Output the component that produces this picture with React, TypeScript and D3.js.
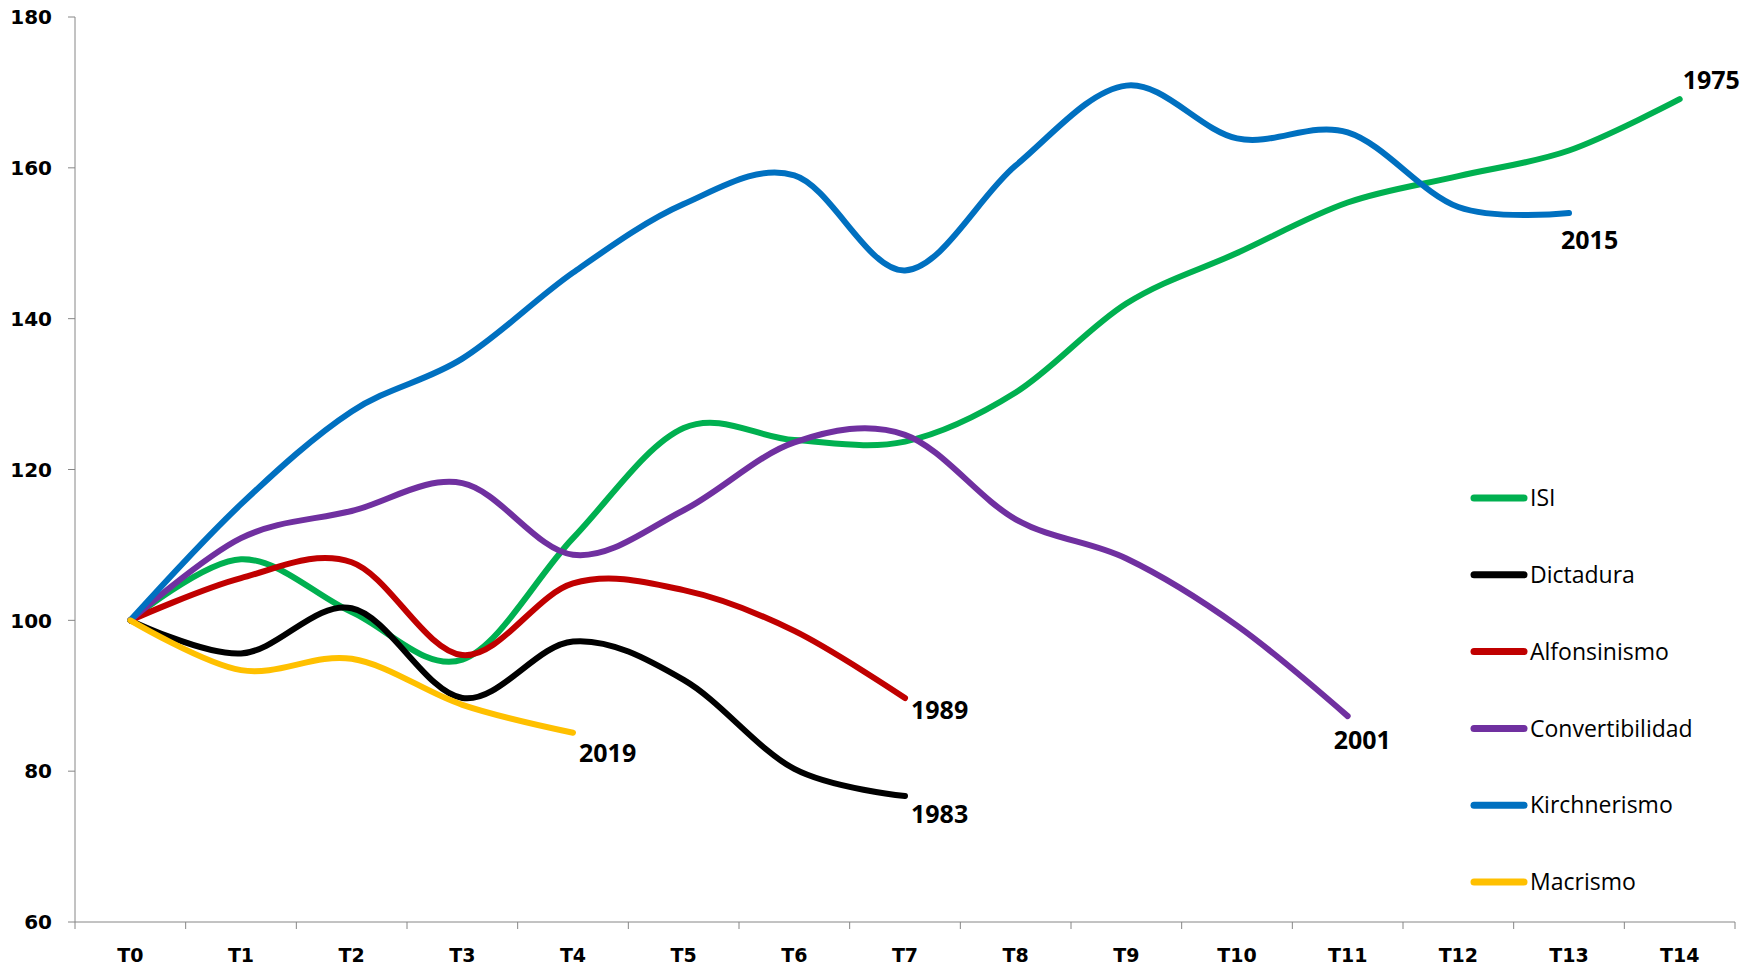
import React, { useEffect, useRef } from 'react';
import * as d3 from 'd3';

// periods T0..T14
const periods = ['T0', 'T1', 'T2', 'T3', 'T4', 'T5', 'T6', 'T7', 'T8', 'T9', 'T10', 'T11', 'T12', 'T13', 'T14'];
const yTicks = [60, 80, 100, 120, 140, 160, 180];

const seriesNames = ['ISI', 'Dictadura', 'Alfonsinismo', 'Convertibilidad', 'Kirchnerismo', 'Macrismo'];
const endLabels = ['1975', '1983', '1989', '2001', '2015', '2019'];

const isi = [100, 108.1, 101.1, 94.8, 110.9, 125.5, 123.9, 123.7, 130.2, 142.0, 148.7, 155.4, 158.9, 162.3, 169.1];
const dictadura = [100, 95.6, 101.6, 89.7, 97.2, 92.1, 80.3, 76.7];
const alfonsinismo = [100, 105.6, 107.7, 95.4, 104.9, 104.0, 98.6, 89.7];
const convertibilidad = [100, 110.9, 114.5, 118.2, 108.7, 114.6, 123.6, 124.6, 113.4, 108.2, 99.3, 87.3];
const kirchnerismo = [100, 115.4, 127.7, 134.7, 146.1, 155.2, 159.0, 146.4, 160.3, 170.9, 163.9, 164.7, 154.8, 154.0];
const macrismo = [100, 93.4, 94.9, 88.8, 85.1];

const colors = ['#00B050', '#000000', '#C00000', '#7030A0', '#0070C0', '#FFC000'];

// where the year label sits relative to the last point of each line
const labelOffsets = [[3, -19], [6, 18], [6, 12], [-14, 24], [-8, 27], [6, 20]];

export default function App() {
  const ref = useRef<SVGSVGElement>(null);

  useEffect(() => {
    document.body.style.margin = '0';
    const width = 1744;
    const height = 971;
    const margin = { left: 75, right: 9, top: 17, bottom: 49 };

    const svg = d3.select(ref.current);
    svg.selectAll('*').remove();

    const x = d3.scaleBand().domain(periods).range([margin.left, width - margin.right]);
    const y = d3.scaleLinear().domain([60, 180]).range([height - margin.bottom, margin.top]);
    const cx = (i: number) => (x(periods[i]) as number) + x.bandwidth() / 2;

    const axisColor = '#868686';
    const tickFont = '"DejaVu Sans", Verdana, sans-serif';

    // y axis
    svg.append('line')
      .attr('x1', margin.left).attr('x2', margin.left)
      .attr('y1', y(180)).attr('y2', y(60))
      .attr('stroke', axisColor).attr('stroke-width', 1);
    yTicks.forEach(t => {
      svg.append('line')
        .attr('x1', margin.left - 7).attr('x2', margin.left)
        .attr('y1', y(t)).attr('y2', y(t))
        .attr('stroke', axisColor);
      svg.append('text')
        .attr('x', margin.left - 23).attr('y', y(t)).attr('dy', '0.36em')
        .attr('text-anchor', 'end')
        .attr('font-family', tickFont).attr('font-weight', 'bold').attr('font-size', 20)
        .text(t);
    });

    // x axis
    svg.append('line')
      .attr('x1', margin.left).attr('x2', width - margin.right)
      .attr('y1', y(60)).attr('y2', y(60))
      .attr('stroke', axisColor);
    periods.forEach((p, i) => {
      svg.append('line')
        .attr('x1', x(p) as number).attr('x2', x(p) as number)
        .attr('y1', y(60)).attr('y2', y(60) + 7)
        .attr('stroke', axisColor);
      svg.append('text')
        .attr('x', cx(i)).attr('y', 955).attr('dy', '0.36em')
        .attr('text-anchor', 'middle')
        .attr('font-family', tickFont).attr('font-weight', 'bold').attr('font-size', 19)
        .text(p);
    });
    svg.append('line')
      .attr('x1', width - margin.right).attr('x2', width - margin.right)
      .attr('y1', y(60)).attr('y2', y(60) + 7)
      .attr('stroke', axisColor);

    const allSeries = [isi, dictadura, alfonsinismo, convertibilidad, kirchnerismo, macrismo];

    const line = d3.line<number>()
      .x((d, i) => cx(i))
      .y(d => y(d))
      .curve(d3.curveCardinal.tension(0));

    allSeries.forEach((values, s) => {
      svg.append('path')
        .attr('d', line(values))
        .attr('fill', 'none')
        .attr('stroke', colors[s])
        .attr('stroke-width', 6)
        .attr('stroke-linecap', 'round')
        .attr('stroke-linejoin', 'round');
    });

    // year labels at line ends
    allSeries.forEach((values, s) => {
      const n = values.length - 1;
      svg.append('text')
        .attr('x', cx(n) + labelOffsets[s][0])
        .attr('y', y(values[n]) + labelOffsets[s][1])
        .attr('dy', '0.36em')
        .attr('font-family', '"Open Sans", sans-serif')
        .attr('font-weight', 'bold')
        .attr('font-size', 25)
        .text(endLabels[s]);
    });

    // legend
    const legend = svg.append('g');
    seriesNames.forEach((name, s) => {
      const ly = 498 + s * 76.8;
      legend.append('line')
        .attr('x1', 1474).attr('x2', 1524)
        .attr('y1', ly).attr('y2', ly)
        .attr('stroke', colors[s])
        .attr('stroke-width', 7)
        .attr('stroke-linecap', 'round');
      legend.append('text')
        .attr('x', 1530).attr('y', ly).attr('dy', '0.36em')
        .attr('font-family', '"Open Sans", sans-serif')
        .attr('font-size', 23)
        .text(name);
    });
  }, []);

  return (
    <svg ref={ref} width={1744} height={971} style={{ display: 'block', background: '#fff' }} />
  );
}
